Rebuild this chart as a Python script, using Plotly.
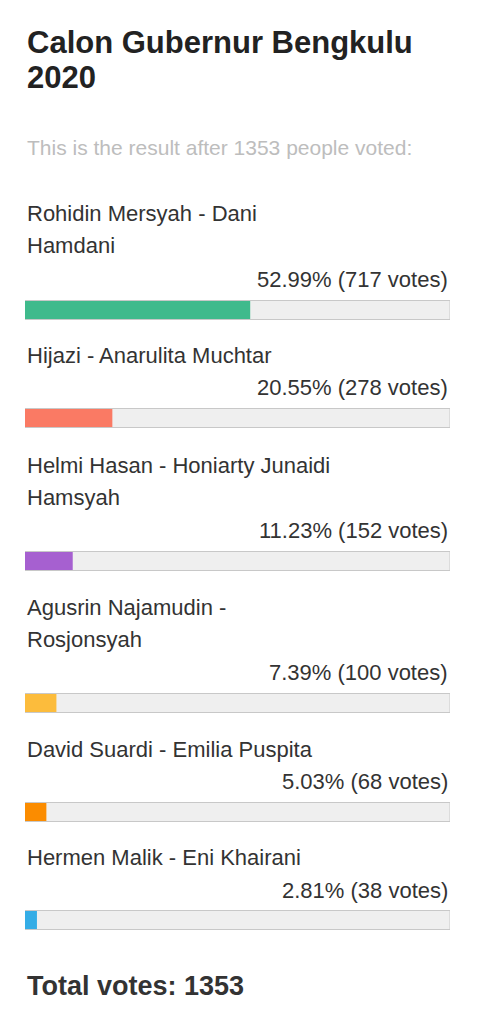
import plotly.graph_objects as go

names = [
    ["Rohidin Mersyah - Dani", "Hamdani"],
    ["Hijazi - Anarulita Muchtar"],
    ["Helmi Hasan - Honiarty Junaidi", "Hamsyah"],
    ["Agusrin Najamudin -", "Rosjonsyah"],
    ["David Suardi - Emilia Puspita"],
    ["Hermen Malik - Eni Khairani"],
]
percents = [52.99, 20.55, 11.23, 7.39, 5.03, 2.81]
votes = [717, 278, 152, 100, 68, 38]
colors = ["#3fba8c", "#fa7a64", "#a660d0", "#fcbc3c", "#fb8c00", "#35ade6"]
total = 1353

# page pixel positions; the html body adds an 8px margin, so subtract it
OFF = 8
bar_y = [310, 418, 561, 703, 812, 920]
name_y = [213, 355, 465, 607, 749, 857]
pct_y = [279, 387, 530, 672, 781, 890]

W, H = 479 - OFF, 1024 - OFF
x0, x1 = (25 - OFF) / W, (450 - OFF) / W
font = "Liberation Sans"

fig = go.Figure()
fig.add_trace(go.Bar(
    x=[100] * len(bar_y), y=[b - OFF for b in bar_y], orientation="h", width=19,
    marker=dict(color="#efefef", line=dict(color="#c8c8c8", width=1)),
    hoverinfo="skip", showlegend=False,
))
fig.add_trace(go.Bar(
    x=percents, y=[b - OFF for b in bar_y], orientation="h", width=18,
    marker=dict(color=colors, line=dict(width=0)),
    showlegend=False,
))

ann = [
    dict(x=x0, y=42, text="<b>Calon Gubernur Bengkulu</b>", font=dict(size=31, color="#222")),
    dict(x=x0, y=77, text="<b>2020</b>", font=dict(size=31, color="#222")),
    dict(x=x0, y=147, text="This is the result after %d people voted:" % total,
         font=dict(size=21, color="#bdbdbd")),
    dict(x=x0, y=986, text="<b>Total votes: %d</b>" % total, font=dict(size=27, color="#333")),
]
for n, ny, p, v, py in zip(names, name_y, percents, votes, pct_y):
    for i, line in enumerate(n):
        ann.append(dict(x=x0, y=ny + 32 * i, text=line, font=dict(size=22, color="#333")))
    ann.append(dict(x=x1, y=py, text="%.2f%% (%d votes)" % (p, v), xanchor="right",
                    font=dict(size=22, color="#333")))
for a in ann:
    a.setdefault("xanchor", "left")
    a["y"] -= OFF
    a.update(xref="paper", yref="y", yanchor="middle", showarrow=False)
    a["font"]["family"] = font

fig.update_layout(
    width=W, height=H, margin=dict(l=0, r=0, t=0, b=0),
    paper_bgcolor="white", plot_bgcolor="white",
    barmode="overlay", annotations=ann,
    xaxis=dict(domain=[x0, x1], range=[0, 100], visible=False, fixedrange=True),
    yaxis=dict(range=[H, 0], visible=False, fixedrange=True),
    shapes=[dict(type="line", xref="paper", yref="paper", x0=(472 - OFF) / W, x1=(472 - OFF) / W,
                 y0=0, y1=1, line=dict(color="#e6e6e6", width=1))],
)
fig.write_html("out.html")
